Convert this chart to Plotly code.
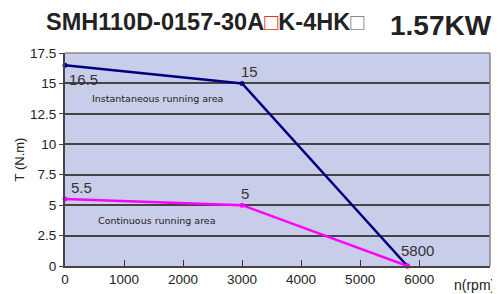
import plotly.graph_objects as go

speed = [0, 3000, 5800]
torque_peak = [16.5, 15, 0]
torque_cont = [5.5, 5, 0]
x_ticks = [0, 1000, 2000, 3000, 4000, 5000, 6000]
y_ticks = [0, 2.5, 5, 7.5, 10, 12.5, 15, 17.5]
y_tick_text = ["0", "2.5", "5", "7.5", "10", "12.5", "15", "17.5"]

# page has an 8px body margin, so the figure is drawn offset by 8px
L, T, PW, PH = 57, 45, 425, 213

fig = go.Figure()
fig.add_trace(go.Scatter(x=speed, y=torque_peak, mode="lines+markers",
                         line=dict(color="#000080", width=2.5),
                         marker=dict(size=5, color="#000080"), cliponaxis=False))
fig.add_trace(go.Scatter(x=speed, y=torque_cont, mode="lines+markers",
                         line=dict(color="#ff00ff", width=2.5),
                         marker=dict(size=5, color="#ff00ff"), cliponaxis=False))

lab_font = dict(family="Liberation Sans, Arial", size=15, color="#333333")
fig.add_annotation(x=speed[0], y=torque_peak[0], text="16.5", showarrow=False,
                   xanchor="left", yanchor="top", xshift=2, yshift=-4, font=lab_font)
fig.add_annotation(x=speed[1], y=torque_peak[1], text="15", showarrow=False,
                   xanchor="left", yanchor="bottom", xshift=-3, yshift=1, font=lab_font)
fig.add_annotation(x=speed[0], y=torque_cont[0], text="5.5", showarrow=False,
                   xanchor="left", yanchor="bottom", xshift=4, yshift=1, font=lab_font)
fig.add_annotation(x=speed[1], y=torque_cont[1], text="5", showarrow=False,
                   xanchor="left", yanchor="bottom", xshift=-3, yshift=1, font=lab_font)
fig.add_annotation(x=speed[2], y=0, text="5800", showarrow=False,
                   xanchor="left", yanchor="bottom", xshift=-8, yshift=5, font=lab_font)

area_font = dict(family="DejaVu Sans, Verdana", size=9.5, color="#222222")
fig.add_annotation(x=1560, y=13.8, text="Instantaneous running area", showarrow=False,
                   font=area_font)
fig.add_annotation(x=1560, y=3.7, text="Continuous running area", showarrow=False,
                   font=area_font)

fig.add_annotation(xref="paper", yref="paper", x=(444 - L) / PW, y=-(277 - (T + PH)) / PH,
                   xanchor="left", yanchor="middle", text="n(rpm)", showarrow=False,
                   font=dict(family="Liberation Sans, Arial", size=14, color="#222222"))

fig.add_annotation(xref="paper", yref="paper", x=(36 - L) / PW,
                   y=1.0 + (T - 14) / PH, xanchor="left", yanchor="middle",
                   text="SMH110D-0157-30A<span style='color:#e8302a'>□</span>K-4HK<span style='color:#888888'>□</span>",
                   showarrow=False,
                   font=dict(family="Liberation Sans Narrow, Liberation Sans, Arial", size=23.5, color="#222222", weight="bold"))
fig.add_annotation(xref="paper", yref="paper", x=(485 - L) / PW,
                   y=1.0 + (T - 1) / PH, xanchor="right", yanchor="top",
                   text="1.57KW", showarrow=False, borderpad=0,
                   font=dict(family="Liberation Sans, Arial", size=28, color="#222222", weight="bold"))

fig.update_layout(
    width=500, height=294,
    margin=dict(l=L, r=500 - L - PW, t=T, b=294 - T - PH),
    plot_bgcolor="#c8cde9", paper_bgcolor="white",
    showlegend=False,
    font=dict(family="Liberation Sans, Arial", size=13, color="#222222"),
)
fig.update_xaxes(range=[0, 7200], tickvals=x_ticks, ticks="inside", ticklen=6,
                 tickcolor="#333333", showgrid=False, zeroline=False, automargin=False,
                 showline=True, linecolor="#444444", linewidth=2, mirror=False,
                 tickfont=dict(size=13.5, color="#222222"))
fig.update_yaxes(range=[0, 17.5], tickvals=y_ticks, ticktext=y_tick_text,
                 showgrid=True, gridcolor="#444444", gridwidth=1.5, zeroline=False,
                 automargin=False,
                 showline=True, linecolor="#444444", linewidth=2,
                 ticks="outside", ticklen=4, tickcolor="#444444",
                 title=dict(text="T (N.m)", standoff=2, font=dict(size=13)),
                 tickfont=dict(size=13.5, color="#222222"))
# top & right border
fig.add_shape(type="line", xref="paper", yref="paper", x0=0, x1=1, y0=1, y1=1,
              line=dict(color="#888888", width=1.5))
fig.add_shape(type="line", xref="paper", yref="paper", x0=1, x1=1, y0=0, y1=1,
              line=dict(color="#888888", width=1.5))

fig.write_html("out.html")
